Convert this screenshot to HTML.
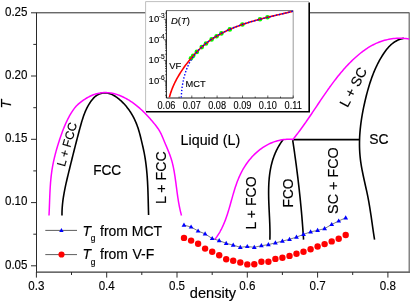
<!DOCTYPE html>
<html><head><meta charset="utf-8"><title>Phase diagram</title>
<style>
html,body{margin:0;padding:0;background:#fff;}
body{width:411px;height:301px;overflow:hidden;}
svg{display:block;will-change:transform;opacity:0.999;font-family:"Liberation Sans",sans-serif;}
text{fill:#000;}
</style></head><body>
<svg width="411" height="301" viewBox="0 0 411 301">
<rect width="411" height="301" fill="#fff"/>

<g stroke="#2a2a2a" stroke-width="1" fill="none" shape-rendering="auto">
<path d="M36.5 12.5V272"/>
<path d="M36 272H410" stroke="#3a3a3a" stroke-width="1.25"/>
<path d="M36.5 12.8H409.3" stroke="#2a2a2a" stroke-width="1"/>
<path d="M409.2 12.5V272" stroke="#666" stroke-width="1.2"/>
<path d="M31 12.8H36.5"/>
<path d="M31 76.0H36.5"/>
<path d="M31 139.3H36.5"/>
<path d="M31 202.6H36.5"/>
<path d="M31 265.8H36.5"/>
<path d="M33.3 44.4H36.5"/>
<path d="M33.3 107.7H36.5"/>
<path d="M33.3 170.9H36.5"/>
<path d="M33.3 234.2H36.5"/>
<path d="M36.4 272V277.6"/>
<path d="M106.7 272V277.6"/>
<path d="M177.0 272V277.6"/>
<path d="M247.3 272V277.6"/>
<path d="M317.6 272V277.6"/>
<path d="M387.9 272V277.6"/>
<path d="M71.5 272V275"/>
<path d="M141.8 272V275"/>
<path d="M212.2 272V275"/>
<path d="M282.4 272V275"/>
<path d="M352.7 272V275"/>
</g>
<text transform="translate(27.5 15.5) rotate(0.0) scale(1 1.060)" text-anchor="end" font-size="11.6px" stroke="#000" stroke-width="0.12">0.25</text>
<text transform="translate(27.5 78.8) rotate(0.0) scale(1 1.060)" text-anchor="end" font-size="11.6px" stroke="#000" stroke-width="0.12">0.20</text>
<text transform="translate(27.5 142.0) rotate(0.0) scale(1 1.060)" text-anchor="end" font-size="11.6px" stroke="#000" stroke-width="0.12">0.15</text>
<text transform="translate(27.5 205.2) rotate(0.0) scale(1 1.060)" text-anchor="end" font-size="11.6px" stroke="#000" stroke-width="0.12">0.10</text>
<text transform="translate(27.5 268.5) rotate(0.0) scale(1 1.060)" text-anchor="end" font-size="11.6px" stroke="#000" stroke-width="0.12">0.05</text>
<text transform="translate(36.4 290.2) rotate(0.0) scale(1 1.060)" text-anchor="middle" font-size="11.6px" stroke="#000" stroke-width="0.12">0.3</text>
<text transform="translate(106.7 290.2) rotate(0.0) scale(1 1.060)" text-anchor="middle" font-size="11.6px" stroke="#000" stroke-width="0.12">0.4</text>
<text transform="translate(177.0 290.2) rotate(0.0) scale(1 1.060)" text-anchor="middle" font-size="11.6px" stroke="#000" stroke-width="0.12">0.5</text>
<text transform="translate(247.3 290.2) rotate(0.0) scale(1 1.060)" text-anchor="middle" font-size="11.6px" stroke="#000" stroke-width="0.12">0.6</text>
<text transform="translate(317.6 290.2) rotate(0.0) scale(1 1.060)" text-anchor="middle" font-size="11.6px" stroke="#000" stroke-width="0.12">0.7</text>
<text transform="translate(387.9 290.2) rotate(0.0) scale(1 1.060)" text-anchor="middle" font-size="11.6px" stroke="#000" stroke-width="0.12">0.8</text>
<text transform="translate(189.8 297.6) rotate(0.0) scale(1 1.050)" text-anchor="start" font-size="14.6px" stroke="#000" stroke-width="0.16">density</text>
<text transform="translate(11.4 104.0) rotate(-90.0) scale(1 1.000)" text-anchor="middle" font-size="14.5px" stroke="#000" stroke-width="0.16" font-style="italic">T</text>
<g fill="none" stroke-linecap="butt" stroke-linejoin="round">
<path d="M61.98 215.50 L61.98 214.49 L61.98 213.48 L62.00 212.48 L62.02 211.47 L62.06 210.47 L62.11 209.46 L62.16 208.46 L62.23 207.46 L62.30 206.46 L62.39 205.46 L62.48 204.46 L62.58 203.46 L62.69 202.47 L62.81 201.47 L62.93 200.47 L63.07 199.48 L63.21 198.48 L63.35 197.49 L63.51 196.50 L63.67 195.51 L63.83 194.52 L64.01 193.53 L64.18 192.54 L64.37 191.55 L64.56 190.56 L64.75 189.57 L64.95 188.59 L65.15 187.60 L65.36 186.62 L65.57 185.63 L65.78 184.65 L66.00 183.66 L66.22 182.68 L66.45 181.70 L66.67 180.72 L66.90 179.73 L67.13 178.75 L67.37 177.77 L67.60 176.79 L67.84 175.82 L68.07 174.84 L68.31 173.86 L68.55 172.88 L68.79 171.90 L69.03 170.93 L69.27 169.95 L69.51 168.98 L69.74 168.00 L69.98 167.03 L70.22 166.05 L70.46 165.08 L70.70 164.10 L70.94 163.13 L71.18 162.16 L71.43 161.18 L71.67 160.21 L71.91 159.24 L72.15 158.27 L72.39 157.29 L72.63 156.32 L72.88 155.35 L73.12 154.38 L73.37 153.41 L73.61 152.44 L73.85 151.46 L74.10 150.49 L74.35 149.52 L74.59 148.55 L74.84 147.58 L75.09 146.61 L75.34 145.64 L75.58 144.67 L75.83 143.70 L76.08 142.72 L76.34 141.75 L76.59 140.78 L76.84 139.81 L77.09 138.84 L77.35 137.87 L77.60 136.89 L77.86 135.92 L78.11 134.95 L78.37 133.97 L78.63 133.00 L78.89 132.03 L79.15 131.05 L79.41 130.08 L79.67 129.11 L79.93 128.13 L80.20 127.16 L80.46 126.18 L80.73 125.21 L81.00 124.23 L81.28 123.26 L81.56 122.29 L81.85 121.32 L82.14 120.36 L82.44 119.39 L82.75 118.43 L83.06 117.48 L83.39 116.52 L83.72 115.58 L84.07 114.63 L84.42 113.69 L84.79 112.76 L85.17 111.83 L85.56 110.91 L85.97 110.00 L86.39 109.09 L86.82 108.19 L87.28 107.30 L87.74 106.42 L88.23 105.54 L88.74 104.67 L89.26 103.82 L89.80 102.97 L90.36 102.13 L90.95 101.31 L91.55 100.49 L92.18 99.69 L92.83 98.91 L93.51 98.15 L94.22 97.43 L94.96 96.74 L95.73 96.10 L96.54 95.50 L97.38 94.95 L98.26 94.46 L99.17 94.04 L100.12 93.68 L101.09 93.38 L102.07 93.15 L103.06 92.99 L104.05 92.89 L105.03 92.86 L106.01 92.91 L106.97 93.01 L107.93 93.18 L108.87 93.40 L109.81 93.67 L110.73 94.00 L111.65 94.38 L112.55 94.79 L113.44 95.25 L114.31 95.75 L115.18 96.28 L116.03 96.85 L116.87 97.44 L117.70 98.05 L118.51 98.69 L119.30 99.35 L120.09 100.02 L120.85 100.70 L121.60 101.40 L122.34 102.11 L123.06 102.83 L123.77 103.56 L124.46 104.30 L125.14 105.06 L125.80 105.82 L126.45 106.59 L127.08 107.38 L127.70 108.17 L128.30 108.97 L128.90 109.79 L129.47 110.61 L130.04 111.44 L130.58 112.28 L131.12 113.13 L131.64 113.98 L132.15 114.84 L132.64 115.71 L133.12 116.59 L133.59 117.48 L134.05 118.37 L134.49 119.27 L134.91 120.17 L135.33 121.08 L135.73 122.00 L136.12 122.92 L136.50 123.85 L136.86 124.78 L137.21 125.72 L137.55 126.66 L137.88 127.60 L138.19 128.55 L138.49 129.51 L138.79 130.46 L139.07 131.42 L139.35 132.39 L139.61 133.35 L139.87 134.32 L140.13 135.29 L140.37 136.27 L140.62 137.24 L140.86 138.22 L141.09 139.19 L141.33 140.17 L141.56 141.15 L141.79 142.13 L142.03 143.11 L142.26 144.09 L142.49 145.07 L142.71 146.05 L142.94 147.03 L143.16 148.02 L143.38 149.00 L143.59 149.98 L143.80 150.97 L144.00 151.95 L144.19 152.94 L144.38 153.93 L144.56 154.91 L144.74 155.90 L144.91 156.89 L145.07 157.88 L145.23 158.87 L145.38 159.87 L145.53 160.86 L145.67 161.85 L145.80 162.85 L145.93 163.84 L146.06 164.84 L146.18 165.83 L146.29 166.83 L146.41 167.83 L146.51 168.83 L146.61 169.82 L146.71 170.82 L146.80 171.82 L146.89 172.82 L146.98 173.82 L147.06 174.82 L147.13 175.83 L147.21 176.83 L147.28 177.83 L147.34 178.83 L147.41 179.84 L147.47 180.84 L147.53 181.84 L147.58 182.85 L147.63 183.85 L147.68 184.86 L147.73 185.86 L147.77 186.86 L147.82 187.87 L147.86 188.87 L147.90 189.88 L147.93 190.89 L147.97 191.89 L148.00 192.90 L148.03 193.90 L148.06 194.91 L148.09 195.91 L148.12 196.92 L148.15 197.93 L148.17 198.93 L148.20 199.94 L148.23 200.94 L148.25 201.95 L148.28 202.95 L148.30 203.96 L148.32 204.96 L148.35 205.97 L148.37 206.97 L148.40 207.98 L148.42 208.98 L148.45 209.98 L148.48 210.99 L148.51 211.99 L148.53 212.99 L148.56 214.00 L148.59 215.00" stroke="#000" stroke-width="1.6"/>
<path d="M283.05 139.72 L282.08 141.02 L281.16 142.32 L280.28 143.64 L279.44 144.97 L278.64 146.32 L277.88 147.67 L277.16 149.04 L276.47 150.41 L275.82 151.80 L275.20 153.19 L274.62 154.60 L274.07 156.02 L273.55 157.44 L273.07 158.87 L272.61 160.32 L272.19 161.77 L271.79 163.23 L271.42 164.69 L271.08 166.17 L270.77 167.65 L270.48 169.13 L270.21 170.63 L269.97 172.13 L269.76 173.63 L269.56 175.14 L269.39 176.66 L269.23 178.18 L269.10 179.71 L268.98 181.24 L268.88 182.78 L268.80 184.31 L268.74 185.86 L268.69 187.40 L268.65 188.95 L268.63 190.50 L268.62 192.05 L268.62 193.61 L268.64 195.17 L268.66 196.72 L268.69 198.28 L268.73 199.84 L268.78 201.40 L268.84 202.97 L268.90 204.53 L268.96 206.09 L269.03 207.65 L269.10 209.20 L269.18 210.76 L269.25 212.32 L269.33 213.87 L269.40 215.42 L269.48 216.97 L269.55 218.52 L269.62 220.06 L269.68 221.60 L269.75 223.14 L269.80 224.67 L269.85 226.20 L269.89 227.72 L269.93 229.24 L269.95 230.75 L269.97 232.26 L269.97 233.76 L269.96 235.26 L269.94 236.75 L269.91 238.23 L269.86 239.71" stroke="#000" stroke-width="1.6"/>
<path d="M292.68 140.02 L292.91 141.54 L293.14 143.07 L293.36 144.59 L293.59 146.12 L293.81 147.64 L294.03 149.17 L294.25 150.69 L294.47 152.22 L294.68 153.75 L294.90 155.27 L295.11 156.80 L295.32 158.33 L295.53 159.86 L295.74 161.38 L295.94 162.91 L296.15 164.44 L296.35 165.97 L296.55 167.50 L296.74 169.02 L296.94 170.55 L297.13 172.08 L297.32 173.61 L297.51 175.14 L297.70 176.67 L297.89 178.20 L298.07 179.73 L298.25 181.26 L298.43 182.79 L298.61 184.32 L298.79 185.86 L298.96 187.39 L299.13 188.92 L299.30 190.45 L299.47 191.98 L299.63 193.52 L299.80 195.05 L299.96 196.58 L300.12 198.11 L300.27 199.65 L300.43 201.18 L300.58 202.72 L300.73 204.25 L300.88 205.78 L301.03 207.32 L301.17 208.85 L301.31 210.39 L301.45 211.92 L301.59 213.46 L301.72 215.00 L301.86 216.53 L301.99 218.07 L302.11 219.61 L302.24 221.14 L302.36 222.68 L302.48 224.22 L302.60 225.75 L302.72 227.29 L302.83 228.83 L302.94 230.37 L303.05 231.91 L303.16 233.45 L303.27 234.99 L303.37 236.53 L303.47 238.07 L303.56 239.61" stroke="#000" stroke-width="1.6"/>
<path d="M403.91 38.32 L402.35 38.62 L400.85 39.01 L399.41 39.49 L398.02 40.06 L396.69 40.71 L395.41 41.43 L394.17 42.22 L392.99 43.08 L391.84 44.00 L390.74 44.97 L389.68 46.00 L388.66 47.07 L387.67 48.19 L386.72 49.34 L385.80 50.53 L384.91 51.75 L384.04 52.99 L383.20 54.25 L382.38 55.52 L381.58 56.80 L380.81 58.10 L380.05 59.41 L379.32 60.73 L378.60 62.06 L377.90 63.40 L377.23 64.75 L376.57 66.11 L375.92 67.48 L375.30 68.86 L374.69 70.25 L374.10 71.65 L373.53 73.05 L372.97 74.46 L372.43 75.88 L371.90 77.31 L371.39 78.74 L370.89 80.18 L370.40 81.62 L369.93 83.07 L369.47 84.53 L369.02 85.99 L368.58 87.45 L368.16 88.92 L367.74 90.39 L367.34 91.86 L366.94 93.34 L366.56 94.82 L366.18 96.30 L365.82 97.78 L365.46 99.27 L365.11 100.75 L364.76 102.24 L364.43 103.72 L364.10 105.21 L363.78 106.70 L363.47 108.19 L363.17 109.68 L362.88 111.17 L362.60 112.66 L362.33 114.15 L362.07 115.64 L361.82 117.13 L361.58 118.62 L361.35 120.12 L361.14 121.61 L360.93 123.10 L360.74 124.60 L360.56 126.09 L360.40 127.59 L360.24 129.08 L360.10 130.58 L359.97 132.08 L359.86 133.57 L359.76 135.07 L359.68 136.57 L359.61 138.06 L359.56 139.56 L359.52 141.06 L359.50 142.56 L359.49 144.05 L359.50 145.55 L359.52 147.05 L359.57 148.55 L359.63 150.05 L359.71 151.55 L359.80 153.04 L359.92 154.54 L360.05 156.04 L360.20 157.54 L360.37 159.04 L360.56 160.54 L360.76 162.04 L360.99 163.53 L361.22 165.03 L361.47 166.53 L361.74 168.03 L362.01 169.52 L362.30 171.02 L362.60 172.52 L362.90 174.02 L363.21 175.51 L363.53 177.01 L363.86 178.50 L364.18 180.00 L364.52 181.49 L364.85 182.99 L365.18 184.48 L365.52 185.98 L365.85 187.47 L366.18 188.96 L366.51 190.45 L366.84 191.94 L367.15 193.43 L367.47 194.92 L367.77 196.41 L368.07 197.90 L368.35 199.39 L368.63 200.88 L368.90 202.36 L369.16 203.85 L369.41 205.34 L369.66 206.82 L369.90 208.31 L370.14 209.79 L370.37 211.28 L370.60 212.77 L370.82 214.25 L371.04 215.74 L371.26 217.23 L371.47 218.72 L371.68 220.21 L371.89 221.70 L372.11 223.19 L372.32 224.68 L372.53 226.18 L372.74 227.67 L372.96 229.17 L373.17 230.67 L373.39 232.17 L373.62 233.67 L373.85 235.18 L374.08 236.68 L374.32 238.19 L374.56 239.70" stroke="#000" stroke-width="1.6"/>
<path d="M292.9 139.6H359.6" stroke="#000" stroke-width="1.6"/>
<path d="M48.99 215.50 L49.06 214.30 L49.12 213.10 L49.17 211.89 L49.23 210.69 L49.28 209.49 L49.33 208.28 L49.37 207.08 L49.42 205.87 L49.46 204.66 L49.51 203.46 L49.55 202.25 L49.60 201.04 L49.64 199.83 L49.69 198.62 L49.73 197.41 L49.78 196.20 L49.83 194.99 L49.89 193.78 L49.94 192.57 L50.00 191.36 L50.06 190.15 L50.13 188.94 L50.20 187.74 L50.28 186.53 L50.36 185.32 L50.44 184.12 L50.53 182.91 L50.63 181.71 L50.74 180.50 L50.85 179.30 L50.97 178.10 L51.09 176.90 L51.23 175.70 L51.37 174.50 L51.52 173.30 L51.68 172.11 L51.85 170.92 L52.03 169.73 L52.22 168.54 L52.42 167.35 L52.63 166.16 L52.85 164.98 L53.08 163.80 L53.32 162.62 L53.57 161.44 L53.82 160.26 L54.09 159.08 L54.36 157.91 L54.64 156.74 L54.93 155.57 L55.23 154.40 L55.53 153.23 L55.84 152.07 L56.16 150.90 L56.49 149.74 L56.82 148.58 L57.16 147.42 L57.51 146.26 L57.86 145.10 L58.22 143.95 L58.58 142.80 L58.95 141.65 L59.32 140.50 L59.70 139.35 L60.09 138.20 L60.48 137.05 L60.87 135.91 L61.28 134.77 L61.68 133.63 L62.10 132.49 L62.52 131.36 L62.95 130.23 L63.39 129.10 L63.83 127.98 L64.29 126.86 L64.75 125.74 L65.23 124.63 L65.72 123.53 L66.21 122.43 L66.72 121.34 L67.25 120.25 L67.78 119.17 L68.33 118.09 L68.89 117.03 L69.47 115.97 L70.06 114.91 L70.67 113.87 L71.29 112.83 L71.93 111.81 L72.60 110.81 L73.29 109.82 L74.00 108.85 L74.74 107.91 L75.50 106.98 L76.30 106.09 L77.13 105.23 L77.99 104.39 L78.88 103.60 L79.81 102.83 L80.76 102.08 L81.73 101.36 L82.72 100.66 L83.72 99.96 L84.73 99.29 L85.75 98.63 L86.79 97.99 L87.84 97.38 L88.91 96.80 L90.00 96.25 L91.10 95.74 L92.22 95.26 L93.35 94.82 L94.49 94.41 L95.64 94.04 L96.81 93.71 L97.97 93.42 L99.15 93.17 L100.33 92.96 L101.52 92.79 L102.71 92.67 L103.90 92.59 L105.09 92.56 L106.27 92.57 L107.46 92.63 L108.65 92.73 L109.83 92.87 L111.01 93.05 L112.19 93.27 L113.36 93.52 L114.53 93.81 L115.70 94.14 L116.85 94.49 L118.00 94.88 L119.14 95.30 L120.28 95.75 L121.40 96.23 L122.52 96.73 L123.62 97.25 L124.72 97.80 L125.80 98.38 L126.87 98.97 L127.93 99.58 L128.98 100.22 L130.01 100.87 L131.03 101.53 L132.03 102.21 L133.02 102.90 L134.00 103.61 L134.97 104.34 L135.92 105.07 L136.86 105.82 L137.78 106.58 L138.70 107.36 L139.61 108.15 L140.50 108.94 L141.39 109.75 L142.26 110.57 L143.13 111.40 L143.98 112.24 L144.83 113.09 L145.67 113.95 L146.50 114.82 L147.33 115.69 L148.15 116.58 L148.96 117.47 L149.76 118.37 L150.56 119.27 L151.35 120.18 L152.14 121.10 L152.92 122.02 L153.70 122.95 L154.47 123.88 L155.23 124.82 L155.98 125.77 L156.71 126.74 L157.42 127.71 L158.11 128.70 L158.77 129.71 L159.41 130.73 L160.01 131.77 L160.57 132.83 L161.11 133.91 L161.62 135.00 L162.11 136.11 L162.58 137.22 L163.04 138.34 L163.50 139.47 L163.96 140.59 L164.42 141.71 L164.89 142.83 L165.36 143.95 L165.83 145.06 L166.31 146.17 L166.78 147.29 L167.25 148.40 L167.72 149.51 L168.18 150.63 L168.63 151.75 L169.08 152.87 L169.51 153.99 L169.93 155.12 L170.34 156.25 L170.73 157.38 L171.10 158.53 L171.46 159.68 L171.80 160.83 L172.12 161.99 L172.42 163.16 L172.71 164.33 L172.98 165.51 L173.24 166.69 L173.49 167.88 L173.72 169.06 L173.95 170.25 L174.16 171.45 L174.36 172.64 L174.56 173.84 L174.75 175.03 L174.93 176.23 L175.11 177.43 L175.28 178.62 L175.45 179.82 L175.62 181.02 L175.78 182.22 L175.94 183.42 L176.10 184.61 L176.25 185.81 L176.41 187.01 L176.57 188.20 L176.72 189.40 L176.88 190.60 L177.04 191.79 L177.20 192.99 L177.36 194.18 L177.53 195.38 L177.70 196.57 L177.88 197.76 L178.06 198.95 L178.25 200.14 L178.44 201.33 L178.65 202.52 L178.86 203.71 L179.07 204.90 L179.30 206.08 L179.54 207.26 L179.78 208.45 L180.04 209.63 L180.31 210.81 L180.59 211.98 L180.88 213.16 L181.19 214.33 L181.50 215.51" stroke="#ff00ff" stroke-width="1.5"/>
<path d="M215.06 239.07 L215.99 237.85 L216.88 236.62 L217.73 235.36 L218.55 234.09 L219.34 232.81 L220.09 231.51 L220.81 230.19 L221.51 228.86 L222.17 227.52 L222.81 226.16 L223.43 224.79 L224.02 223.41 L224.59 222.02 L225.14 220.62 L225.67 219.21 L226.18 217.79 L226.68 216.37 L227.16 214.93 L227.62 213.49 L228.08 212.04 L228.52 210.59 L228.96 209.13 L229.39 207.66 L229.81 206.20 L230.23 204.73 L230.64 203.26 L231.05 201.78 L231.46 200.31 L231.87 198.83 L232.29 197.36 L232.70 195.88 L233.13 194.41 L233.55 192.94 L233.99 191.47 L234.44 190.01 L234.89 188.55 L235.36 187.10 L235.85 185.65 L236.35 184.20 L236.86 182.77 L237.39 181.34 L237.95 179.92 L238.52 178.50 L239.11 177.10 L239.73 175.71 L240.38 174.33 L241.05 172.96 L241.74 171.60 L242.47 170.25 L243.23 168.92 L244.01 167.60 L244.82 166.30 L245.67 165.02 L246.53 163.75 L247.43 162.50 L248.35 161.28 L249.30 160.07 L250.27 158.89 L251.27 157.73 L252.30 156.60 L253.35 155.49 L254.42 154.40 L255.52 153.35 L256.65 152.33 L257.79 151.33 L258.96 150.37 L260.16 149.44 L261.37 148.54 L262.61 147.68 L263.87 146.85 L265.15 146.06 L266.45 145.30 L267.78 144.59 L269.12 143.92 L270.49 143.28 L271.87 142.69 L273.27 142.14 L274.70 141.64 L276.14 141.18 L277.60 140.77 L279.08 140.41 L280.57 140.09 L282.09 139.82 L283.62 139.61 L285.16 139.45 L286.73 139.34 L288.31 139.28 L289.90 139.28 L291.51 139.34 L293.14 139.45 L293.01 139.27 L293.96 138.11 L294.91 136.93 L295.84 135.75 L296.77 134.56 L297.70 133.36 L298.61 132.15 L299.52 130.94 L300.43 129.73 L301.33 128.50 L302.22 127.27 L303.11 126.04 L303.99 124.80 L304.87 123.55 L305.75 122.31 L306.62 121.05 L307.49 119.80 L308.36 118.54 L309.22 117.27 L310.08 116.01 L310.94 114.74 L311.80 113.47 L312.65 112.19 L313.51 110.92 L314.36 109.64 L315.22 108.37 L316.07 107.09 L316.93 105.81 L317.78 104.53 L318.63 103.26 L319.49 101.98 L320.35 100.70 L321.21 99.43 L322.07 98.15 L322.93 96.88 L323.80 95.61 L324.67 94.35 L325.54 93.08 L326.42 91.82 L327.30 90.56 L328.19 89.31 L329.08 88.06 L329.97 86.81 L330.87 85.57 L331.78 84.34 L332.69 83.10 L333.61 81.88 L334.53 80.66 L335.46 79.44 L336.40 78.24 L337.34 77.04 L338.30 75.84 L339.26 74.66 L340.23 73.48 L341.21 72.31 L342.20 71.15 L343.19 70.00 L344.20 68.85 L345.22 67.72 L346.24 66.59 L347.28 65.48 L348.33 64.37 L349.39 63.28 L350.46 62.19 L351.54 61.12 L352.64 60.06 L353.75 59.01 L354.87 57.97 L356.00 56.95 L357.15 55.94 L358.31 54.95 L359.48 53.97 L360.67 53.02 L361.87 52.08 L363.08 51.17 L364.31 50.27 L365.55 49.40 L366.81 48.56 L368.08 47.74 L369.37 46.94 L370.67 46.18 L371.98 45.44 L373.31 44.74 L374.65 44.07 L376.01 43.42 L377.39 42.82 L378.78 42.25 L380.18 41.71 L381.60 41.21 L383.04 40.76 L384.49 40.33 L385.95 39.95 L387.43 39.61 L388.92 39.30 L390.42 39.03 L391.94 38.80 L393.46 38.61 L395.00 38.46 L396.54 38.35 L398.10 38.28 L399.66 38.25 L401.23 38.27 L402.81 38.32 L404.40 38.41 L405.99 38.54 L407.59 38.72 L409.19 38.93" stroke="#ff00ff" stroke-width="1.5"/>
</g>
<path d="M184.0 225.1 L191.1 227.0 L198.1 231.0 L205.1 233.9 L212.2 238.5 L219.2 240.6 L226.2 243.3 L233.2 245.1 L240.3 247.3 L247.3 246.5 L254.3 247.3 L261.4 245.7 L268.4 244.6 L275.4 242.9 L282.4 241.1 L289.5 239.3 L296.5 237.1 L303.5 234.4 L310.6 231.8 L317.6 230.4 L324.6 228.6 L331.7 224.5 L338.7 221.0 L345.7 217.8" fill="none" stroke="#222" stroke-width="0.6"/>
<g fill="#0000ff">
<path d="M184.0 222.5l2.4 4.2h-4.8z"/>
<path d="M191.1 224.4l2.4 4.2h-4.8z"/>
<path d="M198.1 228.4l2.4 4.2h-4.8z"/>
<path d="M205.1 231.3l2.4 4.2h-4.8z"/>
<path d="M212.2 235.9l2.4 4.2h-4.8z"/>
<path d="M219.2 238.0l2.4 4.2h-4.8z"/>
<path d="M226.2 240.7l2.4 4.2h-4.8z"/>
<path d="M233.2 242.5l2.4 4.2h-4.8z"/>
<path d="M240.3 244.7l2.4 4.2h-4.8z"/>
<path d="M247.3 243.9l2.4 4.2h-4.8z"/>
<path d="M254.3 244.7l2.4 4.2h-4.8z"/>
<path d="M261.4 243.1l2.4 4.2h-4.8z"/>
<path d="M268.4 242.0l2.4 4.2h-4.8z"/>
<path d="M275.4 240.3l2.4 4.2h-4.8z"/>
<path d="M282.4 238.5l2.4 4.2h-4.8z"/>
<path d="M289.5 236.7l2.4 4.2h-4.8z"/>
<path d="M296.5 234.5l2.4 4.2h-4.8z"/>
<path d="M303.5 231.8l2.4 4.2h-4.8z"/>
<path d="M310.6 229.2l2.4 4.2h-4.8z"/>
<path d="M317.6 227.8l2.4 4.2h-4.8z"/>
<path d="M324.6 226.0l2.4 4.2h-4.8z"/>
<path d="M331.7 221.9l2.4 4.2h-4.8z"/>
<path d="M338.7 218.4l2.4 4.2h-4.8z"/>
<path d="M345.7 215.2l2.4 4.2h-4.8z"/>
</g>
<g fill="#ff0000">
<circle cx="184.0" cy="237.9" r="3.2"/>
<circle cx="191.1" cy="240.6" r="3.2"/>
<circle cx="198.1" cy="243.8" r="3.2"/>
<circle cx="205.1" cy="248.6" r="3.2"/>
<circle cx="212.2" cy="251.8" r="3.2"/>
<circle cx="219.2" cy="255.3" r="3.2"/>
<circle cx="226.2" cy="259.3" r="3.2"/>
<circle cx="233.2" cy="260.7" r="3.2"/>
<circle cx="240.3" cy="262.5" r="3.2"/>
<circle cx="247.3" cy="264.4" r="3.2"/>
<circle cx="254.3" cy="264.2" r="3.2"/>
<circle cx="261.4" cy="261.7" r="3.2"/>
<circle cx="268.4" cy="261.7" r="3.2"/>
<circle cx="275.4" cy="258.9" r="3.2"/>
<circle cx="282.4" cy="257.7" r="3.2"/>
<circle cx="289.5" cy="255.9" r="3.2"/>
<circle cx="296.5" cy="253.7" r="3.2"/>
<circle cx="303.5" cy="251.8" r="3.2"/>
<circle cx="310.6" cy="249.2" r="3.2"/>
<circle cx="317.6" cy="246.5" r="3.2"/>
<circle cx="324.6" cy="244.1" r="3.2"/>
<circle cx="331.7" cy="241.4" r="3.2"/>
<circle cx="338.7" cy="238.7" r="3.2"/>
<circle cx="345.7" cy="235.0" r="3.2"/>
</g>
<path d="M45.3 230.4H77" stroke="#333" stroke-width="0.8"/>
<path d="M61.4 228l2.2 3.9h-4.4z" fill="#0000ff"/>
<path d="M45.3 254.6H77" stroke="#333" stroke-width="0.8"/>
<circle cx="61.5" cy="254.5" r="3.1" fill="#ff0000"/>
<text transform="translate(82.6 235.6) rotate(0.0) scale(1 1.070)" text-anchor="start" font-size="14.0px" stroke="#000" stroke-width="0.16"><tspan font-style="italic">T</tspan><tspan font-size="8.4px" dy="5.5" dx="-0.3">g</tspan><tspan dy="-5.5" dx="0.6"> from MCT</tspan></text>
<text transform="translate(82.6 259.3) rotate(0.0) scale(1 1.070)" text-anchor="start" font-size="14.0px" stroke="#000" stroke-width="0.16"><tspan font-style="italic">T</tspan><tspan font-size="8.4px" dy="5.5" dx="-0.3">g</tspan><tspan dy="-5.5" dx="0.6"> from </tspan><tspan dx="0.6">V-F</tspan></text>
<text transform="translate(93.2 175.0) rotate(0.0) scale(1 1.070)" text-anchor="start" font-size="13.6px" stroke="#000" stroke-width="0.16">FCC</text>
<text transform="translate(180.6 145.2) rotate(0.0) scale(1 1.070)" text-anchor="start" font-size="14.3px" stroke="#000" stroke-width="0.16">Liquid (L)</text>
<text transform="translate(369.2 143.6) rotate(0.0) scale(1 1.070)" text-anchor="start" font-size="13.9px" stroke="#000" stroke-width="0.16">SC</text>
<text transform="translate(165.6 177.6) rotate(-90.0) scale(1 1.020)" text-anchor="middle" font-size="14.2px" stroke="#000" stroke-width="0.16">L + FCC</text>
<text transform="translate(71.0 145.6) rotate(-74.0) scale(1 1.000)" text-anchor="middle" font-size="12.2px" stroke="#000" stroke-width="0.16">L + FCC</text>
<text transform="translate(256.4 202.9) rotate(-90.0) scale(1 1.030)" text-anchor="middle" font-size="14.1px" stroke="#000" stroke-width="0.16">L + FCO</text>
<text transform="translate(292.8 193.0) rotate(-90.0) scale(1 1.050)" text-anchor="middle" font-size="13.7px" stroke="#000" stroke-width="0.16">FCO</text>
<text transform="translate(338.3 180.6) rotate(-90.0) scale(1 1.020)" text-anchor="middle" font-size="14.4px" stroke="#000" stroke-width="0.16">SC + FCO</text>
<text transform="translate(357.6 89.4) rotate(-62.0) scale(1 1.000)" text-anchor="middle" font-size="14.0px" stroke="#000" stroke-width="0.16">L + SC</text>
<rect x="145.6" y="1.6" width="163.6" height="109.8" fill="#fff"/>
<path d="M145.6 111.4V1.6H309" fill="none" stroke="#b8b8b8" stroke-width="0.9"/>
<path d="M146 111.7H309.2V2.6" fill="none" stroke="#000" stroke-width="1.6"/>
<g stroke="#000" stroke-width="0.9" fill="none">
<path d="M166.4 10.4V98H293.4"/>
<path d="M166.4 10.6H293.2" stroke="#444" stroke-width="0.8"/>
<path d="M293.2 10.6V98" stroke="#808080" stroke-width="0.8"/>
<path d="M166.4 95.2h-1.4" stroke-width="0.6"/>
<path d="M166.4 91.6h-1.4" stroke-width="0.6"/>
<path d="M166.4 89.1h-1.4" stroke-width="0.6"/>
<path d="M166.4 87.1h-1.4" stroke-width="0.6"/>
<path d="M166.4 85.4h-1.4" stroke-width="0.6"/>
<path d="M166.4 84.1h-1.4" stroke-width="0.6"/>
<path d="M166.4 82.9h-1.4" stroke-width="0.6"/>
<path d="M166.4 81.8h-1.4" stroke-width="0.6"/>
<path d="M166.4 80.9h-2.6" stroke-width="0.6"/>
<path d="M166.4 74.7h-1.4" stroke-width="0.6"/>
<path d="M166.4 71.1h-1.4" stroke-width="0.6"/>
<path d="M166.4 68.5h-1.4" stroke-width="0.6"/>
<path d="M166.4 66.5h-1.4" stroke-width="0.6"/>
<path d="M166.4 64.9h-1.4" stroke-width="0.6"/>
<path d="M166.4 63.5h-1.4" stroke-width="0.6"/>
<path d="M166.4 62.3h-1.4" stroke-width="0.6"/>
<path d="M166.4 61.3h-1.4" stroke-width="0.6"/>
<path d="M166.4 60.4h-2.6" stroke-width="0.6"/>
<path d="M166.4 54.2h-1.4" stroke-width="0.6"/>
<path d="M166.4 50.6h-1.4" stroke-width="0.6"/>
<path d="M166.4 48.0h-1.4" stroke-width="0.6"/>
<path d="M166.4 46.0h-1.4" stroke-width="0.6"/>
<path d="M166.4 44.4h-1.4" stroke-width="0.6"/>
<path d="M166.4 43.0h-1.4" stroke-width="0.6"/>
<path d="M166.4 41.8h-1.4" stroke-width="0.6"/>
<path d="M166.4 40.8h-1.4" stroke-width="0.6"/>
<path d="M166.4 39.8h-2.6" stroke-width="0.6"/>
<path d="M166.4 33.6h-1.4" stroke-width="0.6"/>
<path d="M166.4 30.0h-1.4" stroke-width="0.6"/>
<path d="M166.4 27.5h-1.4" stroke-width="0.6"/>
<path d="M166.4 25.5h-1.4" stroke-width="0.6"/>
<path d="M166.4 23.9h-1.4" stroke-width="0.6"/>
<path d="M166.4 22.5h-1.4" stroke-width="0.6"/>
<path d="M166.4 21.3h-1.4" stroke-width="0.6"/>
<path d="M166.4 20.2h-1.4" stroke-width="0.6"/>
<path d="M166.4 19.3h-2.6" stroke-width="0.6"/>
<path d="M166.4 13.1h-1.4" stroke-width="0.6"/>
<path d="M166.4 98v-2.5" stroke-width="0.6"/>
<path d="M179.1 98v-1.5" stroke-width="0.6"/>
<path d="M191.8 98v-2.5" stroke-width="0.6"/>
<path d="M204.4 98v-1.5" stroke-width="0.6"/>
<path d="M217.1 98v-2.5" stroke-width="0.6"/>
<path d="M229.8 98v-1.5" stroke-width="0.6"/>
<path d="M242.5 98v-2.5" stroke-width="0.6"/>
<path d="M255.2 98v-1.5" stroke-width="0.6"/>
<path d="M267.8 98v-2.5" stroke-width="0.6"/>
<path d="M280.5 98v-1.5" stroke-width="0.6"/>
<path d="M293.2 98v-2.5" stroke-width="0.6"/>
</g>
<text transform="translate(166.4 108.6) rotate(0.0) scale(1 1.120)" text-anchor="middle" font-size="9.2px" stroke="#000" stroke-width="0.10">0.06</text>
<text transform="translate(191.8 108.6) rotate(0.0) scale(1 1.120)" text-anchor="middle" font-size="9.2px" stroke="#000" stroke-width="0.10">0.07</text>
<text transform="translate(217.1 108.6) rotate(0.0) scale(1 1.120)" text-anchor="middle" font-size="9.2px" stroke="#000" stroke-width="0.10">0.08</text>
<text transform="translate(242.5 108.6) rotate(0.0) scale(1 1.120)" text-anchor="middle" font-size="9.2px" stroke="#000" stroke-width="0.10">0.09</text>
<text transform="translate(267.8 108.6) rotate(0.0) scale(1 1.120)" text-anchor="middle" font-size="9.2px" stroke="#000" stroke-width="0.10">0.10</text>
<text transform="translate(293.2 108.6) rotate(0.0) scale(1 1.120)" text-anchor="middle" font-size="9.2px" stroke="#000" stroke-width="0.10">0.11</text>
<text transform="translate(148.6 22.1) rotate(0.0) scale(1 1.040)" text-anchor="start" font-size="9.5px" stroke="#000" stroke-width="0.10">10<tspan font-size="6.6px" dy="-3.6" dx="-0.3">-3</tspan></text>
<text transform="translate(148.6 42.6) rotate(0.0) scale(1 1.040)" text-anchor="start" font-size="9.5px" stroke="#000" stroke-width="0.10">10<tspan font-size="6.6px" dy="-3.6" dx="-0.3">-4</tspan></text>
<text transform="translate(148.6 63.2) rotate(0.0) scale(1 1.040)" text-anchor="start" font-size="9.5px" stroke="#000" stroke-width="0.10">10<tspan font-size="6.6px" dy="-3.6" dx="-0.3">-5</tspan></text>
<text transform="translate(148.6 83.7) rotate(0.0) scale(1 1.040)" text-anchor="start" font-size="9.5px" stroke="#000" stroke-width="0.10">10<tspan font-size="6.6px" dy="-3.6" dx="-0.3">-6</tspan></text>
<text transform="translate(171.0 24.2) rotate(0.0) scale(1 1.020)" text-anchor="start" font-size="9.5px" stroke="#000" stroke-width="0.12" font-style="italic">D<tspan font-style="normal">(</tspan>T<tspan font-style="normal">)</tspan></text>
<text transform="translate(169.2 68.9) rotate(0.0) scale(1 1.040)" text-anchor="start" font-size="9.4px" stroke="#000" stroke-width="0.12">VF</text>
<text transform="translate(185.6 87.1) rotate(0.0) scale(1 1.040)" text-anchor="start" font-size="9.3px" stroke="#000" stroke-width="0.12">MCT</text>
<g fill="#00ff00">
<circle cx="267.5" cy="17.3" r="2.3"/>
<circle cx="260.0" cy="19.2" r="2.3"/>
<circle cx="242.4" cy="24.5" r="2.3"/>
<circle cx="229.8" cy="29.4" r="2.3"/>
<circle cx="221.4" cy="33.4" r="2.3"/>
<circle cx="216.6" cy="36.2" r="2.3"/>
<circle cx="211.6" cy="39.4" r="2.3"/>
<circle cx="206.0" cy="43.5" r="2.3"/>
<circle cx="201.8" cy="47.1" r="2.3"/>
<circle cx="196.8" cy="51.9" r="2.3"/>
<circle cx="193.2" cy="55.8" r="2.3"/>
<circle cx="191.0" cy="58.3" r="2.3"/>
</g>
<path d="M292.79 11.34 L291.35 11.69 L289.90 12.03 L288.46 12.37 L287.00 12.71 L285.54 13.05 L284.08 13.39 L282.61 13.73 L281.14 14.07 L279.67 14.41 L278.19 14.75 L276.71 15.09 L275.23 15.44 L273.74 15.79 L272.26 16.14 L270.77 16.50 L269.28 16.85 L267.79 17.22 L266.30 17.58 L264.81 17.95 L263.33 18.33 L261.84 18.71 L260.35 19.10 L258.86 19.50 L257.38 19.90 L255.89 20.31 L254.41 20.72 L252.94 21.15 L251.46 21.58 L249.99 22.02 L248.52 22.47 L247.06 22.93 L245.60 23.40 L244.14 23.88 L242.69 24.37 L241.24 24.87 L239.81 25.38 L238.37 25.91 L236.94 26.44 L235.52 26.99 L234.11 27.55 L232.70 28.13 L231.30 28.72 L229.91 29.32 L228.53 29.94 L227.15 30.57 L225.79 31.22 L224.43 31.88 L223.09 32.56 L221.75 33.25 L220.42 33.96 L219.11 34.69 L217.80 35.44 L216.51 36.20 L215.23 36.99 L213.96 37.79 L212.70 38.61 L211.45 39.45 L210.22 40.31 L209.00 41.19 L207.80 42.09 L206.60 43.01 L205.43 43.95 L204.26 44.92 L203.11 45.90 L201.98 46.90 L200.86 47.93 L199.75 48.97 L198.66 50.03 L197.58 51.10 L196.51 52.19 L195.46 53.30 L194.42 54.42 L193.40 55.56 L192.38 56.71 L191.39 57.88 L190.40 59.05 L189.43 60.24 L188.47 61.44 L187.52 62.65 L186.59 63.87 L185.67 65.10 L184.77 66.33 L183.87 67.58 L183.00 68.84 L182.13 70.10 L181.29 71.38 L180.46 72.66 L179.65 73.95 L178.86 75.26 L178.09 76.57 L177.34 77.89 L176.61 79.22 L175.90 80.56 L175.21 81.91 L174.55 83.27 L173.91 84.64 L173.30 86.02 L172.71 87.41 L172.15 88.80 L171.61 90.21 L171.11 91.63 L170.63 93.06 L170.18 94.49 L169.76 95.94 L169.37 97.40" fill="none" stroke="#ff0000" stroke-width="1.6"/>
<path d="M292.74 11.27 L291.31 11.63 L289.88 11.99 L288.44 12.35 L286.99 12.71 L285.54 13.06 L284.08 13.41 L282.62 13.76 L281.16 14.11 L279.69 14.46 L278.22 14.81 L276.74 15.16 L275.26 15.51 L273.78 15.87 L272.30 16.22 L270.82 16.58 L269.33 16.94 L267.85 17.30 L266.36 17.66 L264.87 18.03 L263.39 18.41 L261.90 18.78 L260.41 19.17 L258.93 19.56 L257.44 19.95 L255.96 20.36 L254.48 20.77 L253.00 21.18 L251.53 21.61 L250.05 22.04 L248.58 22.48 L247.12 22.93 L245.66 23.40 L244.20 23.87 L242.75 24.35 L241.30 24.84 L239.85 25.34 L238.42 25.86 L236.99 26.39 L235.56 26.93 L234.14 27.48 L232.73 28.05 L231.33 28.63 L229.93 29.23 L228.54 29.84 L227.16 30.47 L225.79 31.11 L224.42 31.77 L223.07 32.45 L221.72 33.14 L220.39 33.85 L219.07 34.58 L217.75 35.33 L216.45 36.09 L215.16 36.88 L213.88 37.68 L212.61 38.51 L211.35 39.35 L210.11 40.22 L208.88 41.11 L207.66 42.02 L206.47 42.95 L205.29 43.90 L204.13 44.87 L202.99 45.87 L201.87 46.89 L200.77 47.93 L199.70 48.99 L198.65 50.08 L197.63 51.19 L196.63 52.32 L195.67 53.47 L194.73 54.65 L193.83 55.85 L192.96 57.07 L192.12 58.32 L191.32 59.59 L190.55 60.88 L189.82 62.20 L189.12 63.54 L188.46 64.90 L187.83 66.28 L187.23 67.68 L186.67 69.09 L186.14 70.52 L185.64 71.96 L185.17 73.42 L184.72 74.89 L184.31 76.37 L183.93 77.86 L183.57 79.36 L183.25 80.86 L182.94 82.38 L182.67 83.89 L182.42 85.41 L182.19 86.93 L181.99 88.46 L181.81 89.98 L181.65 91.50 L181.52 93.02 L181.40 94.54 L181.31 96.05 L181.24 97.55" fill="none" stroke="#0000ff" stroke-width="1.4" stroke-dasharray="1.4 1.8"/>
</svg></body></html>
